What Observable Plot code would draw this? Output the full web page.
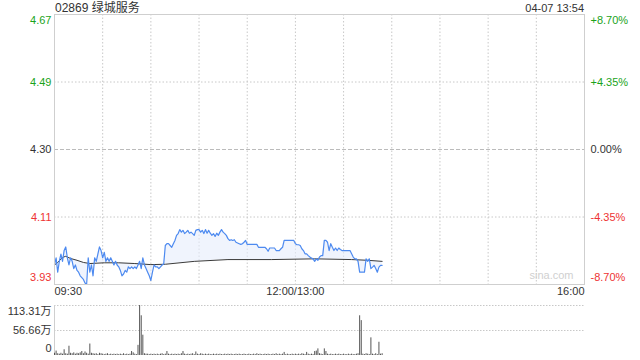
<!DOCTYPE html>
<html><head><meta charset="utf-8">
<script src="https://cdn.jsdelivr.net/npm/d3@7"></script>
<script src="https://cdn.jsdelivr.net/npm/@observablehq/plot@0.6"></script>
<style>
body{margin:0;background:#fff;}
#wrap{position:relative;width:640px;height:360px;overflow:hidden;background:#fff;font-family:"Liberation Sans",Arial,"Noto Sans CJK SC",sans-serif;}
#title{position:absolute;left:55px;top:0;font-size:12px;color:#333;line-height:16px;white-space:nowrap;}
#stamp{position:absolute;right:56px;top:0;font-size:11px;color:#333;line-height:16px;white-space:nowrap;}
.p{position:absolute;left:0;}
</style></head><body>
<div id="wrap">
  <div id="price" class="p" style="top:0"></div>
  <div id="vol" class="p" style="top:296px"></div>
  <div id="title">02869 绿城服务</div>
  <div id="stamp">04-07 13:54</div>
</div>
<script>
// ---------- data ----------
const preClose = 4.30;
const pctTicks = [8.70, 4.35, 0, -4.35, -8.70];
const pctLabels = ["+8.70%", "+4.35%", "0.00%", "-4.35%", "-8.70%"];
const timeTickMin = [0, 150, 330];
const timeTickLabels = ["09:30", "12:00/13:00", "16:00"];
const gridMin = [30, 60, 90, 120, 150, 180, 210, 240, 270, 300];
const volTicks = [113.31, 56.66, 0];
const volTickLabels = ["113.31万", "56.66万", "0"];

// minutes since 09:30 (lunch break removed) and last price
const priceMin = [
  0,1,2,3,4,5,6,7,8,9,10,11,12,13,14,15,16,17,18,19,
  20,21,22,23,24,25,26,27,28,29,30,31,32,33,34,35,36,37,38,39,
  40,41,42,43,44,45,46,47,48,49,50,51,52,53,54,55,56,57,58,59,
  60,61,62,63,64,65,66,67,68,69,70,71,72,73,74,75,76,77,78,79,
  80,81,82,83,84,85,86,87,88,89,90,91,92,93,94,95,96,97,98,99,
  100,101,102,103,104,105,106,107,108,109,110,111,112,113,114,115,116,117,118,119,
  120,122,126,127,131,132,133,134,137,138,140,141,142,143,149,
  150,151,152,153,154,155,156,157,158,159,160,161,162,163,164,165,166,167,168,169,
  170,171,172,173,174,175,176,177,178,179,180,181,182,183,184,185,186,187,188,189,
  190,191,192,193,194,195,196,197,198,199,200,201,202,203,204
];
const price = [
  3.980,4.000,3.960,3.990,4.010,3.990,4.020,4.030,4.000,3.980,4.000,3.990,3.970,3.980,3.965,3.960,3.950,3.945,3.940,3.930,
  3.926,4.000,3.960,3.980,3.950,4.000,3.990,4.010,4.030,4.020,4.000,4.015,3.990,4.000,3.990,4.000,3.990,3.980,3.990,3.980,
  3.975,3.965,3.950,3.955,3.965,3.960,3.975,3.970,3.975,3.970,3.975,3.970,3.980,3.990,3.970,4.000,3.980,3.970,3.960,3.950,
  3.937,3.960,3.980,3.975,3.975,3.970,3.975,3.980,3.983,4.034,4.039,4.039,4.034,4.029,4.039,4.048,4.062,4.067,4.078,4.071,
  4.076,4.067,4.071,4.076,4.068,4.071,4.067,4.062,4.076,4.078,4.078,4.071,4.076,4.067,4.078,4.068,4.076,4.068,4.062,4.067,
  4.059,4.068,4.062,4.071,4.078,4.071,4.067,4.062,4.053,4.048,4.050,4.048,4.050,4.043,4.041,4.039,4.037,4.039,4.043,4.048,
  4.037,4.037,4.037,4.029,4.029,4.025,4.018,4.027,4.027,4.020,4.020,4.025,4.029,4.048,4.048,
  4.039,4.036,4.036,4.034,4.025,4.020,4.011,4.011,4.006,4.002,3.999,3.997,3.990,3.997,3.993,4.002,4.006,4.006,4.048,4.048,
  4.043,4.020,4.039,4.029,4.020,4.027,4.020,4.027,4.023,4.020,4.020,4.020,4.020,4.020,4.020,4.011,4.002,3.997,3.997,3.990,
  3.960,3.960,3.960,3.960,3.997,3.990,3.997,3.970,3.974,3.979,3.970,3.960,3.974,3.979,3.979
];

// average price line
const avgMin = [0, 2, 5, 7, 10, 14, 18, 22, 31, 40, 50, 60, 69, 87, 108, 135, 162, 185, 195, 204];
const avgPrice = [3.980, 3.987, 4.001, 4.004, 3.998, 3.993, 3.987, 3.984, 3.986, 3.986, 3.984, 3.981, 3.982, 3.990, 3.995, 3.995, 3.997, 3.995, 3.993, 3.990];

// volume per minute (万股), minute 0..204
const volume = [
  5,10,4,3,5,3,13,4,3,21,
  5,4,6,3,5,4,6,9,4,8,
  5,3,26,5,4,3,4,2,5,4,
  3,2,3,4,2,3,2,3,2,3,
  2,3,2,4,2,3,2,3,9,6,
  3,2,23,113.31,90,46,4,3,3,2,
  3,2,3,2,3,2,3,4,2,3,
  9,3,2,3,2,3,2,3,2,4,
  9,3,2,3,2,3,4,2,8,3,
  2,4,3,2,3,2,3,2,2,3,
  2,3,2,3,2,2,3,2,3,2,
  3,2,2,3,2,3,2,2,3,2,
  2,3,2,2,3,2,4,2,3,2,
  2,3,2,3,2,2,3,2,4,2,
  3,2,3,7,2,3,2,2,3,2,
  3,2,3,2,4,3,2,7,3,2,
  3,2,9,10,15,4,3,2,15,9,
  3,2,3,2,2,3,2,3,2,2,
  3,2,2,3,2,3,2,2,3,4,
  90,79,3,2,4,3,2,40,3,2,
  4,2,30,3,4
];

// ---------- build ----------
const GREEN = "#1aa31a", RED = "#ee3333", INK = "#333";
const GRID = "#c8c8c8";
const yMax = preClose * (1 + pctTicks[0] / 100);
const yMin = preClose * (1 + pctTicks[4] / 100);

const avgInterp = d3.scaleLinear().domain(avgMin).range(avgPrice).clamp(true);
const priceRows = priceMin.map((m, i) => ({m, p: price[i], a: avgInterp(m)}));
const avgRows = avgMin.map((m, i) => ({m, a: avgPrice[i]}));
const yTickRows = pctTicks.map((p, i) => ({
  v: preClose * (1 + p / 100),
  price: (preClose * (1 + p / 100)).toFixed(2),
  pct: pctLabels[i],
  color: p > 0 ? GREEN : p < 0 ? RED : INK,
  pos: i === 0 ? "top" : i === pctTicks.length - 1 ? "bottom" : "mid"
}));
const xTickRows = timeTickMin.map((m, i) => ({m, label: timeTickLabels[i]}));
const font = {fontFamily: "'Liberation Sans', Arial, 'Noto Sans CJK SC', sans-serif", fontSize: "11px", background: "transparent", overflow: "visible"};

function yLabels(pos, dy) {
  const rows = yTickRows.filter(d => d.pos === pos);
  return [
    Plot.text(rows, {y: "v", text: "price", fill: "color", frameAnchor: "left", textAnchor: "end", dx: -3, dy}),
    Plot.text(rows, {y: "v", text: "pct", fill: "color", frameAnchor: "right", textAnchor: "start", dx: 6, dy})
  ];
}

const pricePlot = Plot.plot({
  width: 640, height: 300,
  marginLeft: 54, marginRight: 56, marginTop: 14, marginBottom: 16,
  style: font,
  x: {domain: [0, 330], axis: null},
  y: {domain: [yMin, yMax], axis: null},
  color: {type: "identity"},
  marks: [
    Plot.ruleX(gridMin, {stroke: GRID, strokeDasharray: "1.5,2"}),
    Plot.ruleY(yTickRows.filter(d => d.pos === "mid" && d.v !== preClose), {y: "v", stroke: GRID, strokeDasharray: "1.5,2"}),
    Plot.ruleY([preClose], {stroke: "#bbb", strokeDasharray: "4,2"}),
    Plot.areaY(priceRows, {x: "m", y1: "a", y2: "p", fill: "#e6edfc", fillOpacity: 0.6}),
    Plot.line(avgRows, {x: "m", y: "a", stroke: "#3a3a3a", strokeWidth: 1}),
    Plot.line(priceRows, {x: "m", y: "p", stroke: "#4d8af0", strokeWidth: 1.2}),
    Plot.frame({stroke: "#cfcfcf"}),
    ...yLabels("top", 6),
    ...yLabels("mid", 0),
    ...yLabels("bottom", -7),
    Plot.text(xTickRows.slice(0, 1), {x: "m", text: "label", frameAnchor: "bottom", dy: 10, textAnchor: "start", fill: INK}),
    Plot.text(xTickRows.slice(1, 2), {x: "m", text: "label", frameAnchor: "bottom", dy: 10, textAnchor: "middle", fill: INK}),
    Plot.text(xTickRows.slice(2, 3), {x: "m", text: "label", frameAnchor: "bottom", dy: 10, textAnchor: "end", fill: INK}),
    Plot.text(["sina.com"], {frameAnchor: "bottom-right", dx: -11, dy: -6, fill: "#d0d0d0", fontSize: 11, textAnchor: "end"})
  ]
});
document.getElementById("price").appendChild(pricePlot);

const volRows = volume.map((v, m) => ({m, v}));
const volTickRows = volTicks.map((v, i) => ({v, label: volTickLabels[i]}));
const volPlot = Plot.plot({
  width: 640, height: 64,
  marginLeft: 54, marginRight: 56, marginTop: 9, marginBottom: 5,
  style: font,
  x: {domain: [0, 330], axis: null},
  y: {domain: [0, volTicks[0]], axis: null},
  marks: [
    Plot.ruleY(volTicks.slice(0, 2), {stroke: GRID, strokeDasharray: "1.5,1.5"}),
    Plot.ruleX([0], {stroke: "#cfcfcf"}),
    Plot.ruleX(volRows, {x: "m", y1: 0, y2: "v", stroke: "#555", strokeWidth: 1}),
    Plot.text(volTickRows.slice(0, 1), {y: "v", text: "label", frameAnchor: "left", textAnchor: "end", dx: -3, dy: 6, fill: INK}),
    Plot.text(volTickRows.slice(1, 2), {y: "v", text: "label", frameAnchor: "left", textAnchor: "end", dx: -3, dy: 0, fill: INK}),
    Plot.text(volTickRows.slice(2, 3), {y: "v", text: "label", frameAnchor: "left", textAnchor: "end", dx: -3, dy: -7, fill: INK})
  ]
});
document.getElementById("vol").appendChild(volPlot);
</script>
</body></html>
